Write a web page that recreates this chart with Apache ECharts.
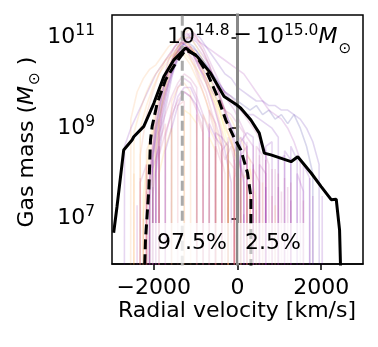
<!DOCTYPE html>
<html>
<head>
<meta charset="utf-8">
<script src="https://cdn.jsdelivr.net/npm/echarts@6/dist/echarts.min.js"></script>
<style>
  html, body { margin: 0; padding: 0; background: #fff; }
  #chart { width: 378px; height: 347px; }
</style>
</head>
<body>
<div id="chart"></div>
<script>
// velocity bins (km/s) for the individual halo curves (two offset grids)
const velBins = [-2850, -2700, -2550, -2400, -2250, -2100, -1950, -1800, -1650, -1500,
  -1350, -1200, -1050, -900, -750, -600, -450, -300, -150, 0,
  150, 300, 450, 600, 750, 900, 1050, 1200, 1350, 1500,
  1650, 1800, 1950, 2100, 2250];
const velBinsB = [-2775, -2625, -2475, -2325, -2175, -2025, -1875, -1725, -1575, -1425,
  -1275, -1125, -975, -825, -675, -525, -375, -225, -75, 75,
  225, 375, 525, 675, 825, 975, 1125, 1275, 1425, 1575,
  1725, 1875, 2025, 2175, 2325];

// log10 gas mass per bin for individual halos, 0 (or missing) = empty bin
const haloLogs = [
  [0,0,0,0,0,7.4,8.9,9.7,10.3,10.7,10.9,10.8,10.6,10.3,10.0,9.6,9.1,8.5,7.8,0,7.1],
  [0,0,0,0,7.0,0,8.6,9.5,10.1,10.5,10.7,10.7,10.5,10.1,9.8,9.3,8.9,8.3,8.6,7.9,0,7.6],
  [0,0,9.2,9.8,10.1,10.3,10.4,10.6,10.8,10.9,11.0,10.9,10.7,10.4,10.1,9.8,9.5,9.1,8.7,8.2,0,7.5],
  [0,0,0,0,0,7.8,9.0,9.8,10.3,10.6,10.8,10.9,10.8,10.6,10.4,10.2,10.0,9.8,9.7,9.6,9.5,9.4,9.5,9.3,9.4,9.2,9.3,9.1,9.3,9.0,8.6,8.0],
  [0,0,0,7.3,0,8.0,9.3,10.0,10.5,10.8,11.0,11.1,10.9,10.7,10.5,10.2,9.8,9.3,8.9,8.4,7.8,0,7.2],
  [0,0,0,0,7.5,8.7,9.5,10.0,10.4,10.6,10.7,10.6,10.4,10.2,10.0,9.7,9.4,9.0,8.7,8.3,7.9,8.1,7.4],
  [0,0,0,0,0,0,8.2,9.4,10.0,10.4,10.7,10.8,10.7,10.5,10.3,10.1,9.9,9.8,9.7,9.5,9.3,9.1,8.9,8.6,8.2,0,7.6],
  [0,8.6,9.0,9.3,9.6,9.9,10.2,10.4,10.6,10.8,10.9,10.8,10.6,10.4,10.2,10.0,9.7,9.4,9.0,8.5,7.9],
  [0,0,0,0,0,7.6,8.8,9.6,10.2,10.6,10.8,10.7,10.4,10.0,9.6,9.1,8.6,8.0,0,7.4],
  [0,0,0,0,0,0,8.5,9.6,10.2,10.6,10.9,11.0,11.0,10.9,10.8,10.7,10.6,10.5,10.4,10.3,10.2,10.0,9.8,9.6,9.4,9.3,9.2,9.0,8.7,8.3,0,7.5],
  [0,0,0,0,7.1,8.4,9.3,9.9,10.3,10.6,10.8,10.8,10.7,10.5,10.3,10.0,9.7,9.4,9.2,8.9,8.6,8.3,0,7.8,0,7.3],
  [0,0,0,0,0,7.9,9.1,9.8,10.3,10.6,10.8,10.8,10.6,10.3,10.1,9.8,9.6,9.4,9.3,9.1,8.9,0,8.6,8.4,0,8.1,0,7.7],
  [0,0,0,0,0,0,8.0,9.2,9.9,10.4,10.8,11.0,11.1,11.0,10.8,10.6,10.4,10.2,10.1,9.9,9.8,9.7,9.6,9.6,9.5,9.5,9.4,9.4,9.3,9.2,9.0,8.7,8.2]
];
const haloColors = ['#7e03a8', '#cc4778', '#f89540', '#0d0887', '#9c179e', '#fdca26',
  '#bd3786', '#6a00a8', '#e16462', '#8f0da4', '#fca636', '#b12a90', '#46039f'];

// more halos on the offset grid, 0 (or missing) = empty bin
const haloLogsB = [
  [0,0,0,0,7.6,0,8.4,8.9,9.3,9.6,9.8,9.7,9.4,9.0,0,8.6,8.2,0,7.9,8.3,0,8.1,7.8,0,7.5],
  [0,0,0,7.9,0,8.3,0,8.8,9.4,9.9,10.1,10.0,9.7,9.3,8.9,0,8.5,8.7,0,8.4,8.6,0,8.2,8.0,0,7.7,0,7.4],
  [0,0,8.0,0,8.5,8.9,9.2,0,9.6,9.9,10.0,9.8,0,9.3,9.0,8.7,0,8.4,0,8.0,0,7.6],
  [0,0,0,0,0,8.1,8.6,0,9.2,9.7,9.9,9.9,9.6,0,9.1,8.8,8.6,0,8.5,8.8,8.6,0,8.7,8.5,0,8.3,8.4,0,8.0,7.6],
  [0,0,0,0,8.2,0,8.7,9.1,0,9.5,9.6,0,9.3,8.9,0,8.6,0,8.3,8.1,0,8.4,8.2,0,8.3,0,8.0,0,7.8,0,7.4],
  [0,0,0,0,0,0,8.0,8.6,9.0,0,9.4,9.3,9.1,0,8.8,8.5,0,8.2,0,7.9],
  [0,0,0,0,0,7.7,0,8.5,9.0,9.5,9.8,9.7,9.5,9.2,0,8.9,8.8,8.6,0,8.7,8.9,8.8,0,8.6,8.7,0,8.5,8.3,0,8.2,7.9,0,7.5],
  [0,0,0,7.8,8.2,0,8.9,9.3,9.7,10.0,10.2,10.1,9.9,0,9.4,9.1,0,8.8,8.5,0,8.7,0,8.4,0,8.1,0,7.9],
  [0,0,8.9,9.4,9.8,10.1,10.3,10.5,10.6,10.7,10.6,10.4,10.1,9.8,9.4,9.0,8.6,0,8.1,0,7.7],
  [0,0,0,0,0,8.4,9.2,9.8,10.2,10.5,10.7,10.8,10.7,10.5,10.3,10.1,9.9,9.7,9.5,9.4,9.3,9.3,9.2,9.1,9.0,8.8,0,8.6,8.3,0,7.9],
  [0,0,0,0,0,7.8,9.2,9.9,10.4,10.8,11.0,11.0,10.8,10.5,10.1,9.7,9.2,8.6,0,7.9],
  [0,0,0,8.4,9.3,9.8,10.2,10.5,10.7,10.9,11.1,11.2,11.0,10.7,10.4,10.0,9.6,9.1,8.5,0,7.8],
  [0,0,0,0,0,0,8.4,9.4,10.1,10.6,10.9,11.0,10.9,10.7,10.4,10.0,9.6,9.2,8.9,8.6,0,8.2,0,7.7],
  [0,0,0,0,7.2,8.6,9.5,10.1,10.5,10.8,10.9,10.8,10.5,10.2,9.8,9.4,8.9,0,8.3],
  [0,0,0,0,0,7.5,8.9,9.7,10.3,10.7,11.0,11.1,11.0,10.8,10.5,10.2,9.9,9.6,9.4,9.1,8.8,8.6,0,8.3],
  [0,0,0,9.0,9.5,9.9,10.2,10.4,10.6,10.8,10.9,10.8,10.6,10.3,9.9,9.5,9.0,8.4]
];
const haloColorsB = ['#cc4778', '#9c179e', '#f89540', '#7e03a8', '#d8576b', '#fdca26',
  '#6a00a8', '#bd3786', '#fb9f3a', '#5c01a6', '#f0f921', '#ed7953', '#7201a8', '#cc4778',
  '#9c179e', '#fca636'];

// stacked profile (solid black)
const meanVel = [-2960, -2880, -2720, -2520, -2480, -2240, -2000, -1760, -1520, -1240,
  -960, -640, -320, -40, 80, 320, 520, 640, 800, 1280, 1440, 1760, 2000, 2240, 2360, 2440, 2490];
const meanLog = [6.69, 7.27, 8.52, 8.74, 8.81, 9.04, 9.55, 10.14, 10.51, 10.77,
  10.58, 10.21, 9.70, 9.53, 9.44, 9.18, 8.89, 8.45, 8.41, 8.26, 8.37, 8.01, 7.71, 7.42, 7.43, 6.75, 5.0];

// fitted profile (dashed black)
const fitVel = [-2250, -2200, -2120, -2080, -2040, -1920, -1720, -1480, -1240, -1000,
  -720, -480, -280, -80, 80, 240, 320, 320, 325];
const fitLog = [5.0, 6.53, 7.64, 8.74, 9.04, 9.55, 10.07, 10.43, 10.73, 10.62,
  10.21, 9.70, 9.18, 8.79, 8.52, 8.01, 7.49, 6.76, 5.0];

const xTicks = [-2000, 0, 2000];
const yTickExp = [7, 9, 11];
const peakVel = -1320;
const zeroVel = 0;

const FONT = 'DejaVu Sans';
const EMPTY = 1e-100;

const chart = echarts.init(document.getElementById('chart'));

function haloSeries(bins, lg, color) {
  return {
    type: 'line',
    data: bins.map((v, i) => [v, lg[i] ? Math.pow(10, lg[i]) : EMPTY]),
    symbol: 'none',
    silent: true,
    lineStyle: { color: color, width: 1.6, opacity: 0.16 }
  };
}

const series = [];
haloLogs.forEach((lg, k) => series.push(haloSeries(velBins, lg, haloColors[k])));
haloLogsB.forEach((lg, k) => series.push(haloSeries(velBinsB, lg, haloColorsB[k])));
series.push({
  type: 'line', symbol: 'none', silent: true,
  data: [[peakVel, 1], [peakVel, 1e14]],
  lineStyle: { color: '#aaaaaa', width: 3, type: [10, 5] }
});
series.push({
  type: 'line', symbol: 'none', silent: true,
  data: [[zeroVel, 1], [zeroVel, 1e14]],
  lineStyle: { color: '#888888', width: 3 }
});
series.push({
  type: 'line', symbol: 'none', silent: true,
  data: meanVel.map((v, i) => [v, Math.pow(10, meanLog[i])]),
  lineStyle: { color: '#000', width: 3 }
});
series.push({
  type: 'line', symbol: 'none', silent: true,
  data: fitVel.map((v, i) => [v, Math.pow(10, fitLog[i])]),
  lineStyle: { color: '#000', width: 3, type: [10, 5] }
});

chart.setOption({
  animation: false,
  grid: { left: 112, top: 15, right: 15, bottom: 83, show: true, borderColor: '#000', borderWidth: 1.5, backgroundColor: 'transparent' },
  xAxis: {
    type: 'value', min: -3000, max: 3000,
    axisLine: { show: true, lineStyle: { color: '#000', width: 1.5 } },
    axisTick: { show: true, length: 6, lineStyle: { color: '#000', width: 1.5 }, customValues: xTicks },
    axisLabel: {
      customValues: xTicks, margin: 13, color: '#000', fontFamily: FONT, fontSize: 22,
      formatter: v => (v < 0 ? '\u2212' + Math.abs(v) : String(v))
    },
    splitLine: { show: false }
  },
  yAxis: {
    type: 'log', logBase: 10, min: 1e6, max: Math.pow(10, 11.5),
    axisLine: { show: true, lineStyle: { color: '#000', width: 1.5 } },
    axisTick: { show: true, length: 6, lineStyle: { color: '#000', width: 1.5 }, customValues: yTickExp.map(e => Math.pow(10, e)) },
    axisLabel: {
      customValues: yTickExp.map(e => Math.pow(10, e)), margin: 17,
      formatter: v => '{b|10}{s|' + Math.round(Math.log10(v)) + '}',
      rich: {
        b: { fontFamily: FONT, fontSize: 22, color: '#000' },
        s: { fontFamily: FONT, fontSize: 15.5, color: '#000', padding: [0, 0, 13, 0] }
      }
    },
    splitLine: { show: false },
    minorTick: { show: false }
  },
  series: series,
  graphic: [
    {
      type: 'text', left: 167, top: 23, z: 100,
      style: {
        text: '{b|10}{s|14.8}{m|\u2212}{b|10}{s|15.0}{i|M}{o|\u2299}',
        rich: {
          b: { fontFamily: FONT, fontSize: 22, color: '#000' },
          s: { fontFamily: FONT, fontSize: 15.5, color: '#000', padding: [0, 0, 13, 0] },
          m: { fontFamily: FONT, fontSize: 22, color: '#000', padding: [0, 4, 4, 4] },
          i: { fontFamily: FONT, fontSize: 22, fontStyle: 'italic', color: '#000' },
          o: { fontFamily: FONT, fontSize: 15.4, color: '#000', padding: [22, 0, 0, 1] }
        }
      }
    },
    {
      type: 'text', x: 192, y: 243, z: 100,
      style: {
        text: '97.5%', fontFamily: FONT, fontSize: 22, fill: '#000', lineHeight: 22,
        align: 'center', verticalAlign: 'middle',
        backgroundColor: 'rgba(255,255,255,0.75)', padding: [9, 6]
      }
    },
    {
      type: 'text', x: 273, y: 243, z: 100,
      style: {
        text: '2.5%', fontFamily: FONT, fontSize: 22, fill: '#000', lineHeight: 22,
        align: 'center', verticalAlign: 'middle',
        backgroundColor: 'rgba(255,255,255,0.75)', padding: [9, 7]
      }
    },
    {
      type: 'text', x: 237, y: 311, z: 100,
      style: {
        text: 'Radial velocity [km/s]', fontFamily: FONT, fontSize: 22, fill: '#000',
        align: 'center', verticalAlign: 'middle'
      }
    },
    {
      type: 'text', x: 27, y: 142, rotation: Math.PI / 2, z: 100,
      style: {
        text: '{n|Gas mass (}{i|M}{o|\u2299}{n| )}',
        align: 'center', verticalAlign: 'middle',
        rich: {
          n: { fontFamily: FONT, fontSize: 22, color: '#000' },
          i: { fontFamily: FONT, fontSize: 22, fontStyle: 'italic', color: '#000' },
          o: { fontFamily: FONT, fontSize: 15.4, color: '#000', padding: [15, 0, 0, 1] }
        }
      }
    }
  ]
});
</script>
</body>
</html>
